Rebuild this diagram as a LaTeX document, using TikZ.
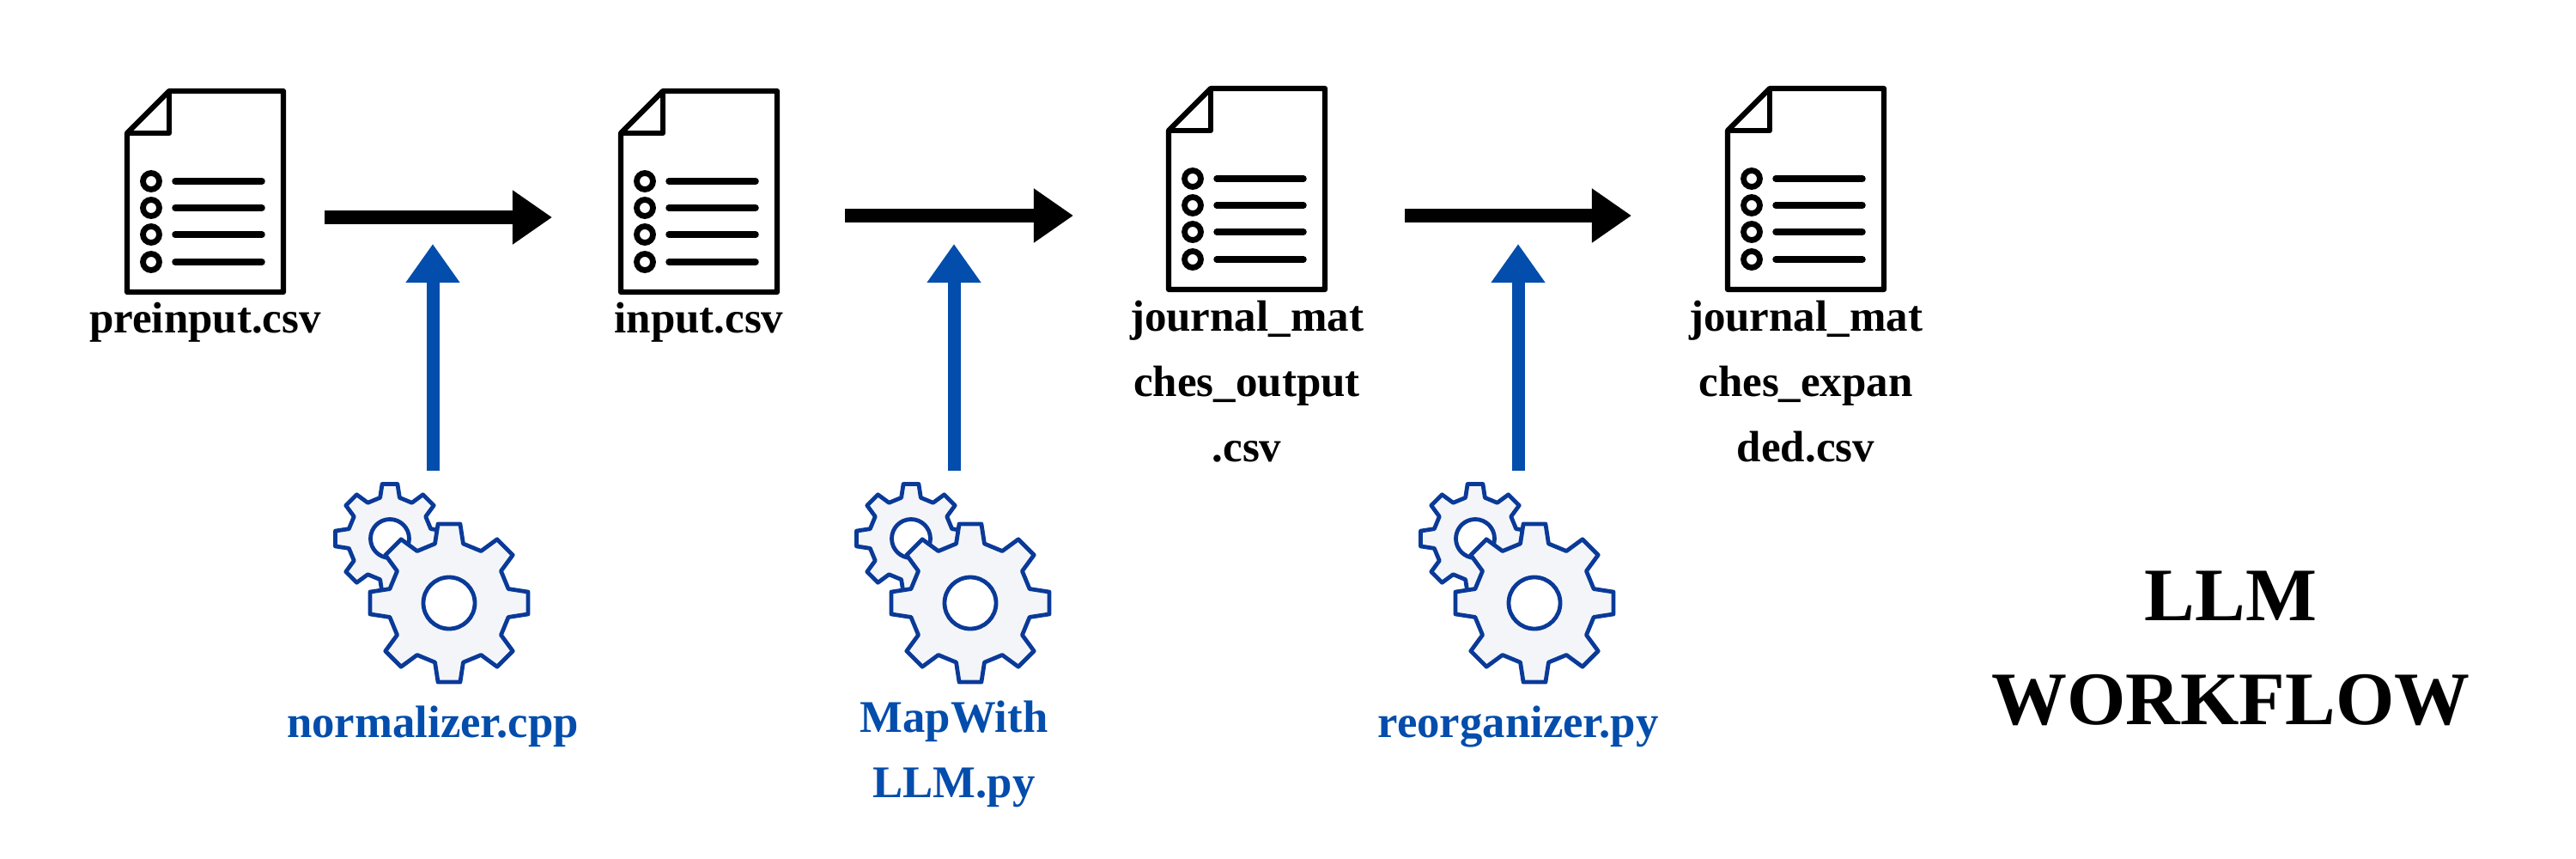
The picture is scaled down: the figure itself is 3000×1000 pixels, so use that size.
\documentclass[tikz,border=0pt]{standalone}
\usepackage{fontspec}
\setmainfont{Liberation Serif}
\usetikzlibrary{arrows.meta}

\definecolor{toolblue}{HTML}{034DAC}
\definecolor{gearline}{HTML}{0A3A98}
\definecolor{gearfill}{HTML}{F3F5F8}

\tikzset{
    % Arrows between the files and from the tools
    flow/.style={line width=0.15cm, black, -{Triangle[length=0.46cm,width=0.6cm]}},
    feed/.style={line width=0.15cm, toolblue, -{Triangle[length=0.45cm,width=0.6cm]}},
    % File icon
    doc line/.style={line width=0.062cm, black, line join=round},
    doc bullet/.style={line width=0.068cm, black},
    doc row/.style={line width=0.075cm, black, line cap=round},
    % Gear icon
    gear line/.style={line width=0.048cm, gearline, line join=round},
    % Labels
    file label/.style={font=\fontsize{14.5pt}{21.62pt}\selectfont\bfseries, align=center, anchor=base, inner sep=0pt},
    tool label/.style={font=\fontsize{15pt}{21.62pt}\selectfont\bfseries, align=center, anchor=base, inner sep=0pt, text=toolblue},
    title label/.style={font=\fontsize{25pt}{34.4pt}\selectfont\bfseries, align=center, anchor=base, inner sep=0pt},
}

% File icon, #1 = top left corner
\newcommand{\docicon}[1]{
    \begin{scope}[shift={#1}]
        \draw[doc line] (0,49) -- (49,0) -- (182,0) -- (182,234) -- (0,234) -- cycle;
        \draw[doc line] (0,49) -- (49,49) -- (49,0);
        \foreach \rowy in {105,136,167,199} {
            \draw[doc bullet] (28,\rowy) circle (9.5);
            \draw[doc row] (56,\rowy) -- (157,\rowy);
        }
    \end{scope}
}

% Gear wheel, #1 = centre, #2 = scale, #3 = hole radius
\newcommand{\gearwheel}[3]{
    \begin{scope}[shift={#1}]
        \draw[gear line, fill=gearfill] (-13.4:71*#2)
            \foreach \a in {0,45,...,315} {
                -- (\a-13.4:71*#2) -- (\a-8:92.9*#2) -- (\a+8:92.9*#2) -- (\a+13.4:71*#2)
            } -- cycle;
        \draw[gear line, fill=white] (0,0) circle (#3);
    \end{scope}
}

\begin{document}
\begin{tikzpicture}[x=0.01cm,y=-0.01cm]
    \useasboundingbox (0,0) rectangle (3000,1000);

    % File icons
    \docicon{(148,106)}
    \docicon{(723,106)}
    \docicon{(1361,103)}
    \docicon{(2012,103)}

    % File names
    \node[file label] (preinput) at (239,387) {preinput.csv};
    \node[file label] (input) at (814,387) {input.csv};
    \node[file label] (matches) at (1452,385) {journal\_mat};
    \node[file label] (matches b) at (1452,461) {ches\_output};
    \node[file label] (matches c) at (1452,537) {.csv};
    \node[file label] (expanded) at (2103,385) {journal\_mat};
    \node[file label] (expanded b) at (2103,461) {ches\_expan};
    \node[file label] (expanded c) at (2103,537) {ded.csv};

    % Gears
    \gearwheel{(454,627)}{0.69}{22.5}
    \gearwheel{(523,702)}{1}{30}
    \gearwheel{(1061,627)}{0.69}{22.5}
    \gearwheel{(1130,702)}{1}{30}
    \gearwheel{(1718,627)}{0.69}{22.5}
    \gearwheel{(1787,702)}{1}{30}

    % Tool names
    \node[tool label] (normalizer) at (504,858) {normalizer.cpp};
    \node[tool label] (mapwith) at (1111,852) {MapWith};
    \node[tool label] (mapwith b) at (1111,928) {LLM.py};
    \node[tool label] (reorganizer) at (1768,858) {reorganizer.py};

    % Title
    \node[title label] (title) at (2598,722) {LLM};
    \node[title label] (title b) at (2598,843) {WORKFLOW};

    % Arrow ends
    \coordinate (flow1 out) at (378,253);
    \coordinate (flow1 in) at (643,253);
    \coordinate (flow2 out) at (984,251);
    \coordinate (flow2 in) at (1250,251);
    \coordinate (flow3 out) at (1636,251);
    \coordinate (flow3 in) at (1900,251);
    \coordinate (gear1 out) at (504,548);
    \coordinate (gear1 in) at (504,284);
    \coordinate (gear2 out) at (1111,548);
    \coordinate (gear2 in) at (1111,284);
    \coordinate (gear3 out) at (1768,548);
    \coordinate (gear3 in) at (1768,284);

    % Black arrows
    \draw[flow] (flow1 out) -- (flow1 in);
    \draw[flow] (flow2 out) -- (flow2 in);
    \draw[flow] (flow3 out) -- (flow3 in);

    % Blue arrows
    \draw[feed] (gear1 out) -- (gear1 in);
    \draw[feed] (gear2 out) -- (gear2 in);
    \draw[feed] (gear3 out) -- (gear3 in);
\end{tikzpicture}
\end{document}
